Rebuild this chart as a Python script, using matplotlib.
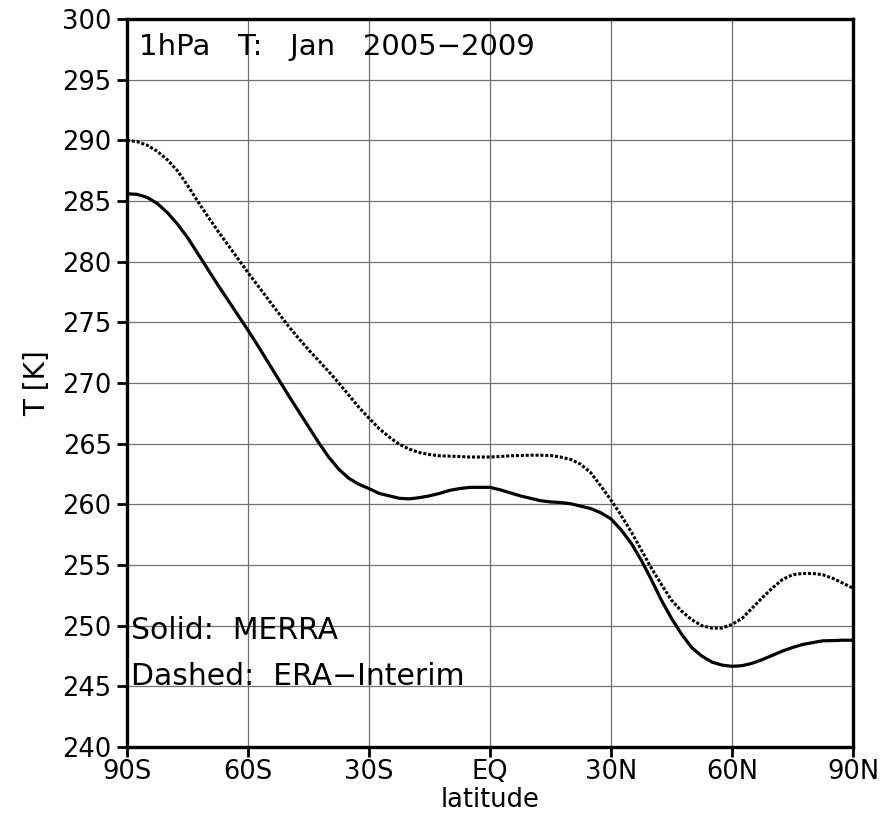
import numpy as np
import matplotlib.pyplot as plt

# zonal mean temperature at 1 hPa, January 2005-2009, every 2.5 deg
lat = np.arange(-90, 90.1, 2.5)

merra = [285.6, 285.55, 285.3, 284.8, 284.05, 283.1, 282.0, 280.7, 279.4,
         278.1, 276.85, 275.6, 274.35, 273.05, 271.7, 270.35, 269.0, 267.7,
         266.4, 265.1, 263.9, 262.9, 262.15, 261.65, 261.3, 260.9, 260.7,
         260.5, 260.45, 260.55, 260.7, 260.9, 261.15, 261.3, 261.4, 261.4,
         261.4, 261.2, 260.95, 260.7, 260.5, 260.3, 260.2, 260.15, 260.05,
         259.85, 259.65, 259.3, 258.8, 257.9, 256.8, 255.4, 253.8, 252.1,
         250.6, 249.3, 248.2, 247.5, 247.0, 246.75, 246.65, 246.7, 246.9,
         247.2, 247.55, 247.9, 248.2, 248.45, 248.6, 248.75, 248.77, 248.8,
         248.8]

era_interim = [290.0, 289.9, 289.6, 289.1, 288.4, 287.5, 286.3, 285.0,
               283.75, 282.55, 281.4, 280.25, 279.1, 278.0, 276.9, 275.8,
               274.7, 273.7, 272.75, 271.85, 270.95, 270.0, 269.0, 268.0,
               267.1, 266.25, 265.55, 264.95, 264.55, 264.27, 264.1, 264.0,
               263.97, 263.94, 263.9, 263.9, 263.9, 263.94, 264.0, 264.02,
               264.05, 264.05, 264.02, 263.9, 263.7, 263.3, 262.6, 261.5,
               260.35, 259.1, 257.75, 256.25, 254.75, 253.4, 252.1, 251.2,
               250.5, 250.0, 249.8, 249.8, 250.1, 250.6, 251.45, 252.3,
               253.1, 253.8, 254.2, 254.3, 254.3, 254.2, 253.9, 253.5, 253.1]

lat_ticks = [-90, -60, -30, 0, 30, 60, 90]
lat_labels = ['90S', '60S', '30S', 'EQ', '30N', '60N', '90N']
t_ticks = list(range(240, 301, 5))

fig = plt.figure(figsize=(8.8, 8.17), dpi=100)
ax = fig.add_axes([0.1443, 0.0857, 0.825, 0.8910])

ax.plot(lat, merra, color='black', lw=2.3, solid_joinstyle='round')
ax.plot(lat, era_interim, color='black', lw=2.2, linestyle=(0, (1.0, 0.6)))

ax.set_xlim(-90, 90)
ax.set_ylim(240, 300)
ax.set_xticks(lat_ticks)
ax.set_xticklabels(lat_labels)
ax.set_yticks(t_ticks)
ax.grid(True, color='#707070', lw=0.9)
ax.set_axisbelow(True)

for s in ax.spines.values():
    s.set_linewidth(2.4)
ax.tick_params(direction='out', length=7, width=2, labelsize=18.5)
ax.tick_params(axis='y', pad=4)
ax.tick_params(axis='x', pad=2)

ax.set_xlabel('latitude', fontsize=18.5, labelpad=1)
ax.set_ylabel('T [K]', fontsize=20, labelpad=8)

ax.text(0.017, 0.9505, '1hPa   T:   Jan   2005\u22122009', transform=ax.transAxes,
        fontsize=21, va='baseline', ha='left')
ax.text(0.006, 0.148, 'Solid:  MERRA', transform=ax.transAxes,
        fontsize=21.5, va='baseline', ha='left')
ax.text(0.006, 0.085, 'Dashed:  ERA\u2212Interim', transform=ax.transAxes,
        fontsize=21.5, va='baseline', ha='left')

fig.savefig('out.png', dpi=100)
